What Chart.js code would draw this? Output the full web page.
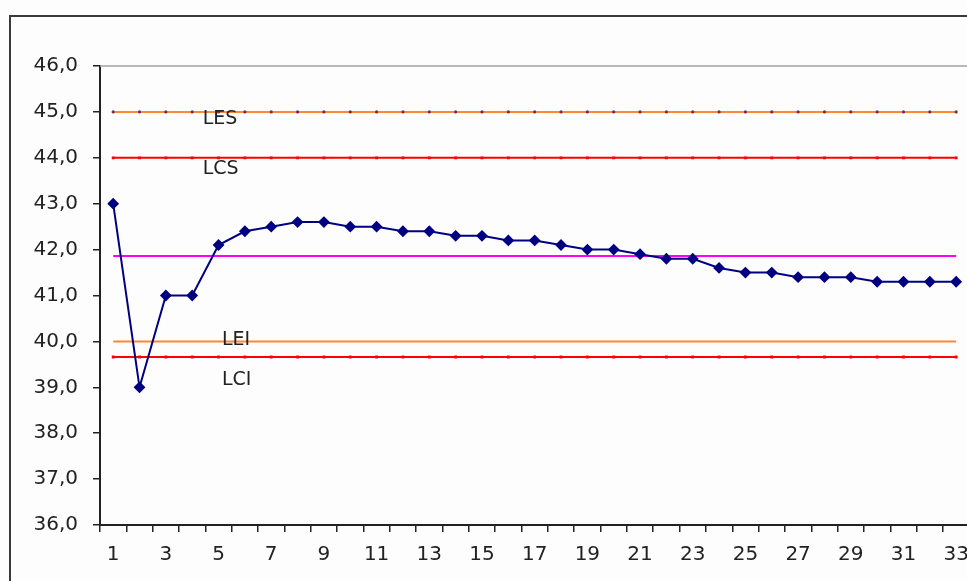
<!DOCTYPE html>
<html>
<head>
<meta charset="utf-8">
<script src="https://cdn.jsdelivr.net/npm/chart.js@4.4.1/dist/chart.umd.min.js"></script>
<style>
  html, body { margin: 0; padding: 0; background: #fdfdfd; overflow: hidden; }
  #caixa { width: 980px; height: 581px; }
</style>
</head>
<body>
<div id="caixa"><canvas id="myChartCanvas1"></canvas></div>
<script>
// amostras 1..33
const amostras = ['1','2','3','4','5','6','7','8','9','10','11','12','13','14','15','16','17',
  '18','19','20','21','22','23','24','25','26','27','28','29','30','31','32','33'];

const valores = [43.0, 39.0, 41.0, 41.0, 42.1, 42.4, 42.5, 42.6, 42.6, 42.5, 42.5, 42.4, 42.4,
  42.3, 42.3, 42.2, 42.2, 42.1, 42.0, 42.0, 41.9, 41.8, 41.8, 41.6, 41.5, 41.5, 41.4, 41.4,
  41.4, 41.3, 41.3, 41.3, 41.3];

// limites
const limiteLES = 45.0;
const limiteLCS = 44.0;
const linhaCentral = 41.86;
const limiteLEI = 40.0;
const limiteLCI = 39.66;

const ticksY = [36, 37, 38, 39, 40, 41, 42, 43, 44, 45, 46];

function linhaConstante(v) {
  return amostras.map(function () { return v; });
}

const fonte = { family: 'DejaVu Sans', size: 20 };

// moldura, borda de cima e os textos LES/LCS/LEI/LCI
const extras = {
  id: 'extras',
  beforeDraw: function (chart) {
    const ctx = chart.ctx;
    ctx.save();
    ctx.fillStyle = '#fdfdfd';
    ctx.fillRect(0, 0, chart.width, chart.height);
    ctx.strokeStyle = '#3a3a3a';
    ctx.lineWidth = 2;
    ctx.beginPath();
    ctx.moveTo(10, chart.height);
    ctx.lineTo(10, 16);
    ctx.lineTo(chart.width, 16);
    ctx.stroke();
    ctx.restore();
  },
  afterDraw: function (chart) {
    const ctx = chart.ctx;
    const area = chart.chartArea;
    const x = chart.scales.x;
    const y = chart.scales.y;
    ctx.save();
    ctx.strokeStyle = '#a0a0a0';
    ctx.lineWidth = 1.5;
    ctx.beginPath();
    ctx.moveTo(area.left, area.top);
    ctx.lineTo(area.right, area.top);
    ctx.stroke();

    ctx.fillStyle = '#222';
    ctx.font = '19px "DejaVu Sans"';
    ctx.textBaseline = 'middle';
    ctx.textAlign = 'left';
    ctx.fillText('LES', x.getPixelForValue(3.4), y.getPixelForValue(limiteLES) + 7);
    ctx.fillText('LCS', x.getPixelForValue(3.4), y.getPixelForValue(limiteLCS) + 11);
    ctx.fillText('LEI', x.getPixelForValue(4.13), y.getPixelForValue(limiteLEI) - 1);
    ctx.fillText('LCI', x.getPixelForValue(4.13), y.getPixelForValue(limiteLCI) + 23);
    ctx.restore();
  }
};

let dados = {
  labels: amostras,
  datasets: [
    {
      label: 'Amostras',
      data: valores,
      borderColor: '#000080',
      backgroundColor: '#000080',
      borderWidth: 2,
      pointStyle: 'rectRot',
      pointRadius: 4.5,
      tension: 0
    },
    {
      label: 'LES',
      data: linhaConstante(limiteLES),
      borderColor: '#ff8833',
      backgroundColor: '#663366',
      pointBorderWidth: 0,
      borderWidth: 2,
      pointStyle: 'circle',
      pointRadius: 1.6
    },
    {
      label: 'LCS',
      data: linhaConstante(limiteLCS),
      borderColor: '#ff0000',
      backgroundColor: '#ff0000',
      pointBorderWidth: 0,
      borderWidth: 2,
      pointStyle: 'rect',
      pointRadius: 2
    },
    {
      label: 'LC',
      data: linhaConstante(linhaCentral),
      borderColor: '#ff00ff',
      borderWidth: 2,
      pointRadius: 0
    },
    {
      label: 'LEI',
      data: linhaConstante(limiteLEI),
      borderColor: '#ff8833',
      borderWidth: 2,
      pointRadius: 0
    },
    {
      label: 'LCI',
      data: linhaConstante(limiteLCI),
      borderColor: '#ff0000',
      backgroundColor: '#ff0000',
      pointBorderWidth: 0,
      borderWidth: 2,
      pointStyle: 'rect',
      pointRadius: 2
    }
  ]
};

const config = {
  type: 'line',
  data: dados,
  plugins: [extras],
  options: {
    responsive: true,
    maintainAspectRatio: false,
    animation: false,
    layout: { padding: { top: 66, left: 0, right: 0, bottom: 0 } },
    plugins: {
      legend: { display: false },
      tooltip: { enabled: false }
    },
    scales: {
      x: {
        offset: true,
        afterFit: function (scale) { scale.height = 56; },
        grid: {
          offset: true,
          drawOnChartArea: false,
          drawTicks: true,
          tickLength: 7,
          color: '#222',
          lineWidth: 1.5
        },
        border: { display: true, color: '#222', width: 2 },
        ticks: {
          autoSkip: false,
          maxRotation: 0,
          padding: 11,
          color: '#222',
          font: fonte,
          callback: function (valor, i) {
            return i % 2 === 0 ? amostras[i] : '';
          }
        }
      },
      y: {
        min: 36,
        max: 46,
        afterFit: function (scale) { scale.width = 100; },
        afterBuildTicks: function (scale) {
          scale.ticks = ticksY.map(function (v) { return { value: v }; });
        },
        grid: {
          drawOnChartArea: false,
          drawTicks: true,
          tickLength: 7,
          color: '#222',
          lineWidth: 1.5
        },
        border: { display: true, color: '#222', width: 2 },
        ticks: {
          padding: 15,
          color: '#222',
          font: fonte,
          callback: function (valor) {
            return valor.toFixed(1).replace('.', ',');
          }
        }
      }
    }
  }
};

let myChart1 = new Chart(document.getElementById('myChartCanvas1'), config);
</script>
</body>
</html>
